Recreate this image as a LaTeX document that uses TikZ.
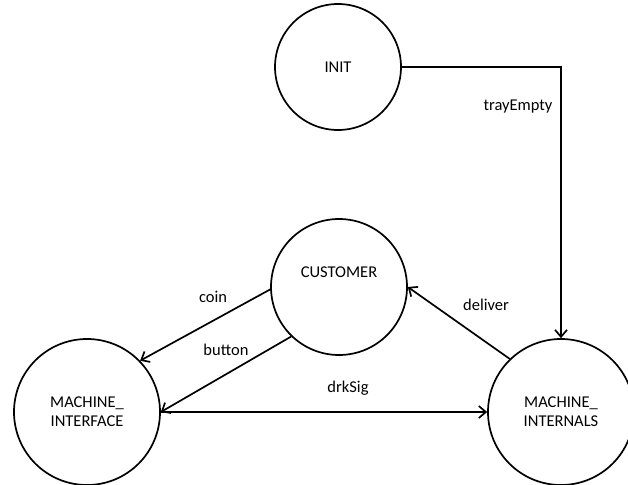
\documentclass[tikz,border=0pt]{standalone}
\usepackage{fontspec}
\setmainfont{Carlito}
\usetikzlibrary{arrows.meta}
\begin{document}
\begin{tikzpicture}[x=1pt,y=-1pt,
  state/.style={circle,draw,line width=1.7pt,inner sep=0pt,align=center,font=\fontsize{16.5}{19}\selectfont},
  lbl/.style={font=\fontsize{16.5}{19}\selectfont,inner sep=1pt},
  flow/.style={line width=1.7pt,-{Straight Barb[length=7pt,width=12pt]}}]
  \useasboundingbox (0,0) rectangle (628,484);
  % states
  \node[state,minimum size=126pt] (init) at (338,67) {INIT};
  \node[state,minimum size=136pt] (cust) at (339,287) {CUSTOMER\\[6pt]\strut};
  \node[state,minimum size=146pt] (mi) at (87,412) {MACHINE\_\\INTERFACE};
  \node[state,minimum size=146pt] (mint) at (561,412) {MACHINE\_\\INTERNALS};
  % transitions
  \draw[flow] (init.east) -| (mint.north);
  \draw[flow] (cust.182) -- (mi.44);
  \draw[flow] (cust.226) -- (mi.east);
  \draw[flow] (mi.east) -- (mint.west);
  \draw[flow] (mint.134) -- (cust.east);
  % labels
  \node[lbl] (lt) at (518,107) {trayEmpty};
  \node[lbl] (lc) at (213,297) {coin};
  \node[lbl] (lb) at (226,350) {button};
  \node[lbl] (ld) at (348,388) {drkSig};
  \node[lbl] (lv) at (486,305) {deliver};
\end{tikzpicture}
\end{document}
